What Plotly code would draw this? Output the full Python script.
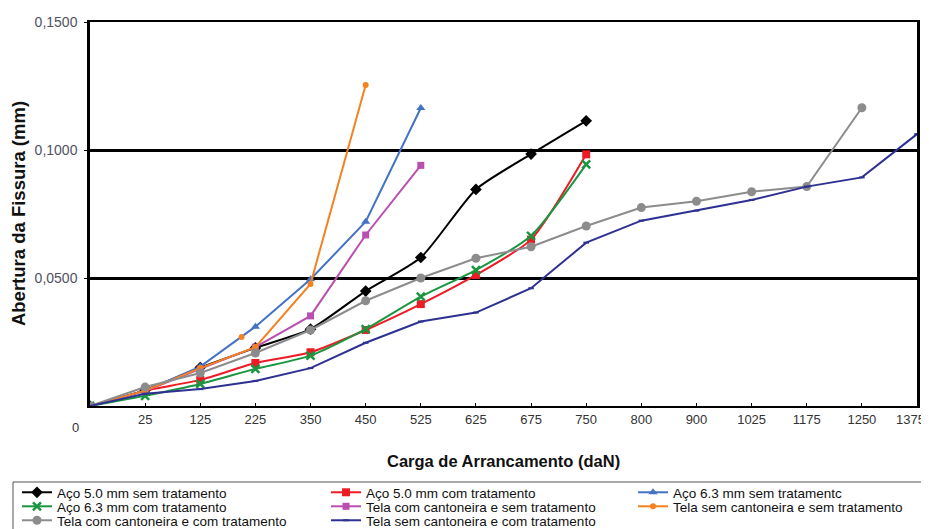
import plotly.graph_objects as go

# Category positions (0 = origin) and load labels
positions = list(range(16))
load_labels = ["25", "125", "225", "350", "450", "525", "625", "675", "750",
               "800", "900", "1025", "1175", "1250", "1375"]

aco50_sem = [0, 0.0062, 0.0150, 0.0227, 0.0300, 0.0449, 0.0580, 0.0846, 0.0984, 0.1114]
aco50_com = [0, 0.0060, 0.0102, 0.0168, 0.0210, 0.0297, 0.0398, 0.0512, 0.0650, 0.0983]
aco63_sem = [0, 0.0060, 0.0154, 0.0310, 0.0495, 0.0720, 0.1164]
aco63_com = [0, 0.0040, 0.0086, 0.0145, 0.0197, 0.0300, 0.0427, 0.0531, 0.0665, 0.0944]
tela_cc_sem = [0, 0.0058, 0.0145, 0.0230, 0.0352, 0.0668, 0.0940]
tela_sc_sem = [0, 0.0060, 0.0148, 0.0230, 0.0477, 0.1254]
tela_sc_sem_extra_pos = [2.75]
tela_sc_sem_extra_val = [0.0270]
tela_cc_com = [0, 0.0074, 0.0129, 0.0207, 0.0297, 0.0411, 0.0500, 0.0577, 0.0622,
               0.0703, 0.0775, 0.0800, 0.0837, 0.0857, 0.1165]
tela_sc_com = [0, 0.0048, 0.0066, 0.0098, 0.0148, 0.0247, 0.0330, 0.0365, 0.0460,
               0.0638, 0.0724, 0.0763, 0.0805, 0.0857, 0.0893, 0.1062]

series = [
    ("Aço 5.0 mm sem tratamento", aco50_sem, "#000000", "diamond", 9, "spline"),
    ("Aço 5.0 mm com tratamento", aco50_com, "#ED1C24", "square", 8, "spline"),
    ("Aço 6.3 mm sem tratamentc", aco63_sem, "#4472C4", "triangle-up", 8, "linear"),
    ("Aço 6.3 mm com tratamento", aco63_com, "#1A9641", "x-thin", 8, "spline"),
    ("Tela com cantoneira e sem tratamento", tela_cc_sem, "#B94FB0", "square", 7, "linear"),
    ("Tela sem cantoneira e sem tratamento", tela_sc_sem, "#F58220", "circle", 6, "linear"),
    ("Tela com cantoneira e com tratamento", tela_cc_com, "#8C8C8C", "circle", 9, "linear"),
    ("Tela sem cantoneira e com tratamento", tela_sc_com, "#2E3192", "line-ew", 4, "linear"),
]

# legend grid: 3 columns, row-major (one small legend per entry)
legend_cols_x = [-0.0883, 0.2854, 0.6566]
legend_rows_y = [-0.1849, -0.2214, -0.2578]

fig = go.Figure()
for i, (name, vals, color, sym, size, shape) in enumerate(series):
    marker = dict(color=color, symbol=sym, size=size)
    if sym == "x-thin":
        marker["line"] = dict(color=color, width=2.5)
    if sym == "line-ew":
        marker["line"] = dict(color=color, width=2)
    lid = "legend" if i == 0 else f"legend{i + 1}"
    fig.add_trace(go.Scatter(
        x=positions[:len(vals)], y=vals, name=name, mode="lines+markers",
        line=dict(color=color, width=2, shape=shape, smoothing=0.6),
        marker=marker, legend=lid,
    ))

fig.add_trace(go.Scatter(
    x=tela_sc_sem_extra_pos, y=tela_sc_sem_extra_val, mode="markers",
    marker=dict(color="#F58220", size=6), showlegend=False, hoverinfo="skip",
))

FONT = "Liberation Sans, Arial"
tick_text = load_labels[:-1] + [""]
# last label drawn separately, nudged left so it stays inside the page as in the original
fig.add_annotation(x=positions[len(load_labels)], y=0, xref="x", yref="y",
                   text=load_labels[-1], showarrow=False, xanchor="right",
                   yanchor="middle", xshift=10, yshift=-13,
                   font=dict(family=FONT, size=13, color="#333333"))
fig.add_annotation(x=0, y=0, xref="x", yref="y", text="0", showarrow=False,
                   xshift=-15, yshift=-21,
                   font=dict(family=FONT, size=13, color="#333333"))
fig.add_annotation(x=0.5, y=-0.143, xref="paper", yref="paper", yanchor="middle",
                   text="<b>Carga de Arrancamento (daN)</b>", showarrow=False,
                   font=dict(family=FONT, size=16.5, color="#111111"))
fig.add_annotation(x=-0.087, y=0.5, xref="paper", yref="paper", xanchor="center",
                   text="<b>Abertura da Fissura (mm)</b>", showarrow=False, textangle=-90,
                   font=dict(family=FONT, size=18.5, color="#111111"))

# legend frame
fig.add_shape(type="rect", xref="paper", yref="paper",
              x0=-0.0931, x1=1.02, y0=-0.1979, y1=-0.40,
              line=dict(color="#555555", width=1), fillcolor="rgba(0,0,0,0)", layer="above")

legends = {}
for i in range(len(series)):
    lid = "legend" if i == 0 else f"legend{i + 1}"
    legends[lid] = dict(
        orientation="v", xref="paper", yref="paper",
        x=legend_cols_x[i % 3], y=legend_rows_y[i // 3],
        xanchor="left", yanchor="top", bgcolor="rgba(0,0,0,0)", borderwidth=0,
        font=dict(size=13.5, color="#111111", family=FONT),
        itemwidth=30, tracegroupgap=0,
    )

fig.update_layout(
    width=921, height=521,
    margin=dict(l=82, r=12, t=14, b=123, autoexpand=False),
    paper_bgcolor="white", plot_bgcolor="white",
    font=dict(family=FONT, size=12, color="#222222"),
    xaxis=dict(
        range=[0, 15], tickmode="array", tickvals=positions[1:], ticktext=tick_text,
        showgrid=False, zeroline=False, showline=True, linecolor="black", linewidth=2,
        mirror=True, ticks="inside", ticklen=3, tickcolor="black", automargin=False,
        tickfont=dict(size=13, color="#333333"),
    ),
    yaxis=dict(
        range=[0, 0.15], tickmode="array", tickvals=[0.05, 0.1, 0.15],
        ticktext=["0,0500", "0,1000", "0,1500"],
        showgrid=True, gridcolor="black", gridwidth=2.5, zeroline=False,
        showline=True, linecolor="black", linewidth=2.5, mirror=True,
        ticks="outside", ticklen=3, tickcolor="black", automargin=False,
        ticklabelstandoff=4,
        tickfont=dict(size=14, color="#505060"),
    ),
    **legends,
)

fig.write_html("out.html")
